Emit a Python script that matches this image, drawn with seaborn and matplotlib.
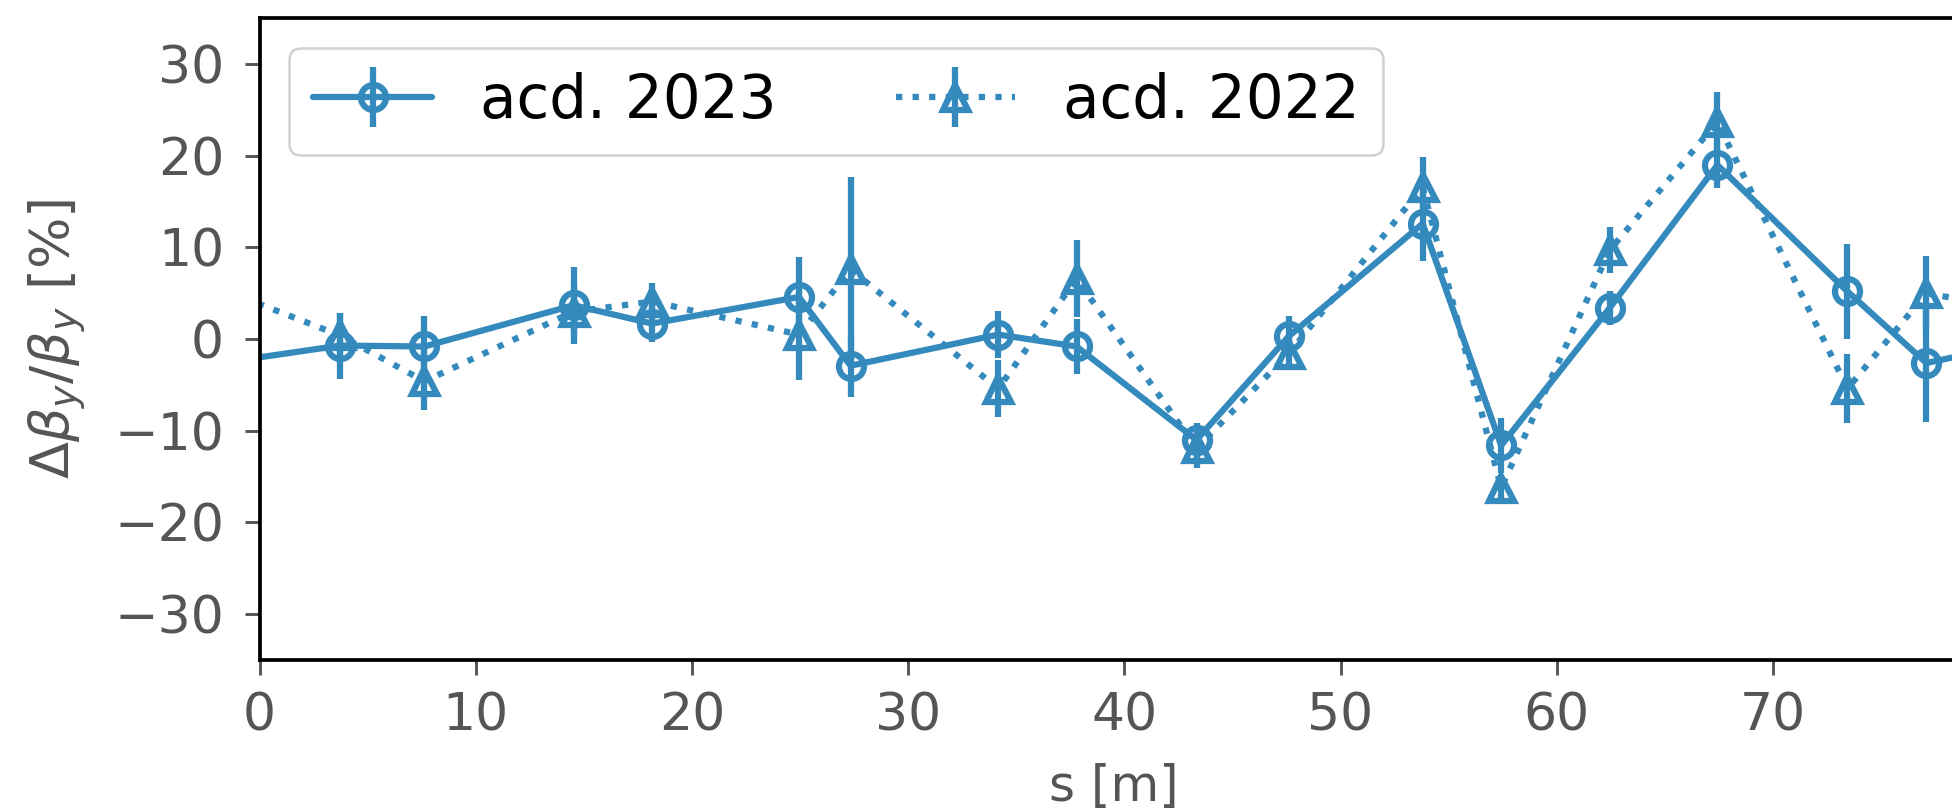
import matplotlib
matplotlib.use("Agg")
import matplotlib.pyplot as plt
import seaborn as sns
from matplotlib.container import ErrorbarContainer

# Longitudinal position of each BPM [m] (first and last entries lie just outside the shown range)
s_pos = [-1.5, 3.73, 7.63, 14.53, 18.16, 24.95, 27.34, 34.17, 37.79, 43.34,
         47.6, 53.8, 57.43, 62.45, 67.43, 73.45, 77.1, 80.5]

# Vertical beta-beating [%] and its uncertainty for each campaign
beat_2023 = [-2.5, -0.7, -0.8, 3.7, 1.7, 4.6, -2.9, 0.5, -0.8, -11.0,
             0.3, 12.6, -11.6, 3.4, 19.0, 5.2, -2.6, -0.9]
err_2023 = [3.0, 3.6, 3.3, 4.2, 2.0, 4.4, 3.4, 2.6, 3.0, 1.9,
            2.2, 4.1, 3.0, 1.9, 2.5, 5.2, 6.4, 3.0]

beat_2022 = [5.2, 0.4, -4.6, 3.0, 4.1, 0.5, 7.6, -5.4, 6.6, -11.9,
             -1.6, 16.6, -16.2, 9.7, 23.7, -5.4, 5.0, 3.6]
err_2022 = [3.0, 2.5, 3.1, 3.0, 2.0, 5.0, 10.1, 3.1, 4.2, 2.2,
            1.8, 3.3, 1.2, 2.5, 3.3, 3.8, 4.1, 3.0]

series_labels = ["acd. 2023", "acd. 2022"]
x_ticks = [0, 10, 20, 30, 40, 50, 60, 70]
y_ticks = [-30, -20, -10, 0, 10, 20, 30]

BLUE = "#348ABD"
GREY = "#555555"

sns.set_style("ticks")
plt.rcParams["font.family"] = ["DejaVu Sans"]
plt.rcParams["mathtext.fontset"] = "dejavusans"

W, H, DPI = 1952, 810, 300
fig = plt.figure(figsize=(W / DPI, H / DPI), dpi=DPI)
fig.patch.set_facecolor("white")

px_per_m = 21.62
x_max = 79.0
left_px, bottom_px, top_px = 259.5, 660.0, 18.3
ax = fig.add_axes([left_px / W, (H - bottom_px) / H,
                   x_max * px_per_m / W, (bottom_px - top_px) / H])

handles = []
for vals, errs, ls, mk in [(beat_2023, err_2023, "-", "o"),
                           (beat_2022, err_2022, ":", "^")]:
    sns.lineplot(x=s_pos, y=vals, ax=ax, color=BLUE, linestyle=ls,
                 linewidth=1.5, marker=mk, markersize=6,
                 markerfacecolor="none", markeredgecolor=BLUE,
                 markeredgewidth=1.5, estimator=None, sort=False)
    line = ax.lines[-1]
    eb = ax.errorbar(s_pos, vals, yerr=errs, fmt="none", ecolor=BLUE,
                     elinewidth=1.5, capsize=0)
    handles.append(ErrorbarContainer((line, (), (eb[2][0],)),
                                     has_xerr=False, has_yerr=True))

ax.set_xlim(0, x_max)
ax.set_ylim(-35, 35)
ax.set_xticks(x_ticks)
ax.set_yticks(y_ticks)

for side in ["left", "right", "top", "bottom"]:
    ax.spines[side].set_visible(True)
    ax.spines[side].set_color("black")
    ax.spines[side].set_linewidth(0.9)

ax.tick_params(axis="both", which="major", direction="out", length=3.5,
               width=0.7, color=GREY, labelcolor=GREY, labelsize=12.5)
ax.tick_params(axis="x", pad=4)
ax.tick_params(axis="y", pad=5)

ax.set_xlabel("s [m]", fontsize=12, color=GREY)
ax.set_ylabel(r"$\Delta\beta_y/\beta_y$ [%]", fontsize=13, color=GREY)
ax.xaxis.set_label_coords(0.5, -0.16)
ax.yaxis.set_label_coords(-0.1, 0.5)

leg = ax.legend(handles=handles, labels=series_labels, loc="upper left",
                ncol=2, fontsize=14.3, frameon=True, fancybox=True,
                edgecolor="0.82", facecolor="white", framealpha=1.0)
leg.get_frame().set_linewidth(0.6)
for t in leg.get_texts():
    t.set_color("black")

fig.savefig("out.png", dpi=DPI, facecolor="white")
